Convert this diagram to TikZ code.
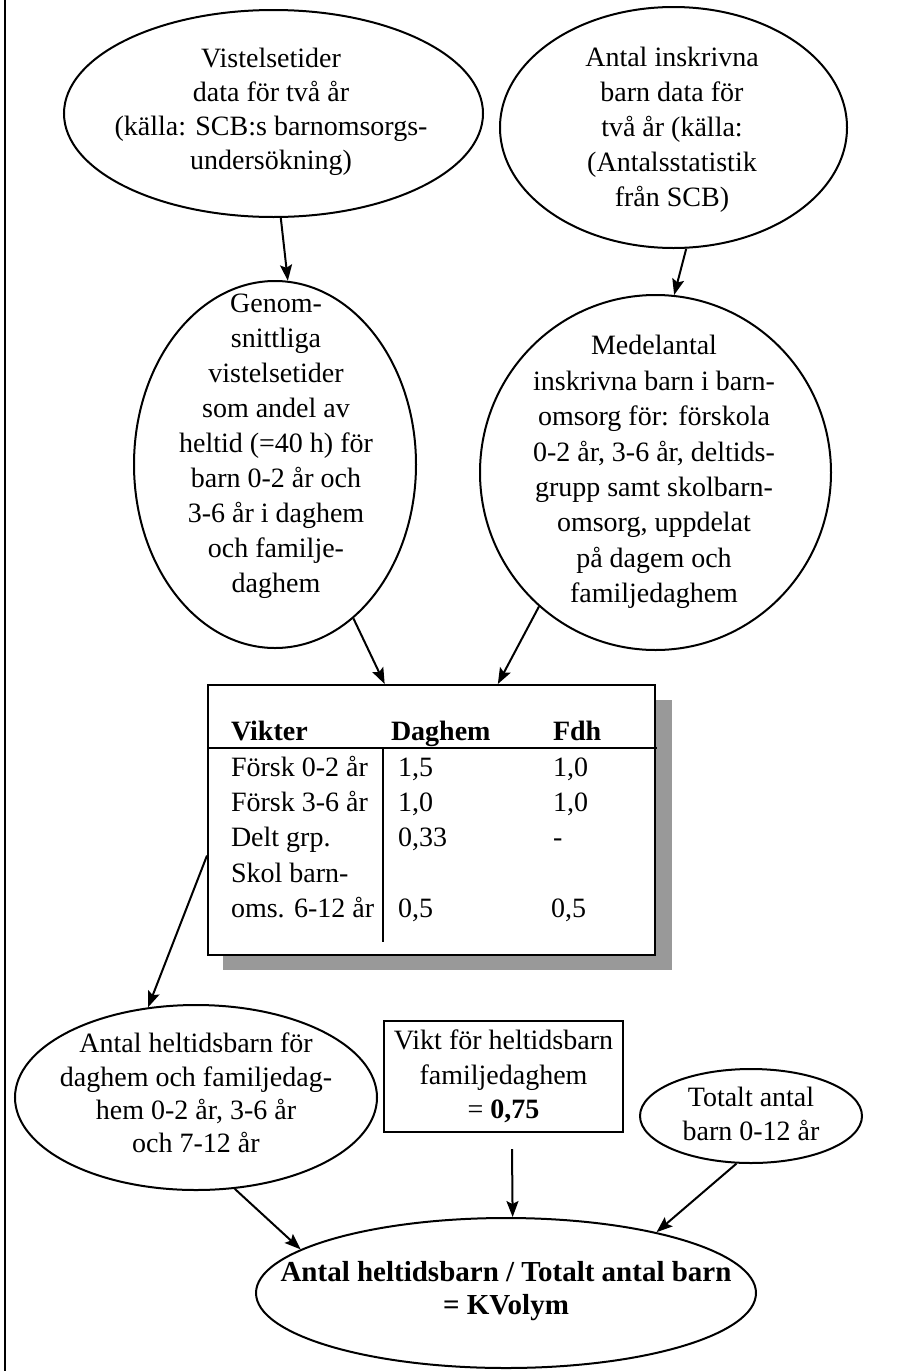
\documentclass[tikz,border=0pt]{standalone}
\usepackage{fontspec}
\setmainfont{Liberation Serif}
\usetikzlibrary{shapes.geometric}
\usetikzlibrary{arrows.meta}

\begin{document}
\begin{tikzpicture}
[x=1pt,y=-1pt,line width=2pt,%
  >={Stealth[length=16pt,width=12pt,inset=3pt]},%
  oval/.style={shape=ellipse,draw,inner sep=0pt},%
  txt/.style={align=center,inner sep=0pt,font=\fontsize{28}{34.5}\selectfont},%
  cell/.style={anchor=base west,inner sep=0pt,font=\fontsize{28}{34}\selectfont}]
\useasboundingbox (0,0) rectangle (912,1371);
\draw (5,0) -- (5,1371);
% sources
\node[oval,minimum width=419pt,minimum height=207pt] (vist) at (273.5,113.5) {};
\node[txt,font=\fontsize{28}{34}\selectfont] (vistT) at (271,112) {Vistelsetider\\data för två år\\(källa: SCB:s barnomsorgs-\\undersökning)};
\node[oval,minimum width=347pt,minimum height=241pt] (antal) at (673.5,127.5) {};
\node[txt,font=\fontsize{28}{35}\selectfont] (antalT) at (672,130) {Antal inskrivna\\barn data för\\två år  (källa:\\(Antalsstatistik\\från SCB)};
% middle
\node[oval,minimum width=282pt,minimum height=367pt] (genom) at (275,464.5) {};
\node[txt,font=\fontsize{28}{35}\selectfont] (genomT) at (276,446) {Genom-\\snittliga\\vistelsetider\\som andel av\\heltid (=40 h) för\\barn 0-2 år och\\3-6 år i daghem\\och familje-\\daghem};
\node[oval,minimum width=351pt,minimum height=355pt] (medel) at (655.5,472.5) {};
\node[txt,font=\fontsize{28}{35.4}\selectfont] (medelT) at (654,472) {Medelantal\\inskrivna barn i barn-\\omsorg för: förskola\\0-2 år, 3-6 år, deltids-\\grupp samt skolbarn-\\omsorg, uppdelat\\på dagem och\\familjedaghem};
\draw[->] (vist.-86.4) -- (genom.86.3);
\draw[->] (antal.-84.1) -- (medel.84);
% weights
\fill[black!40] (223,700) rectangle (672,970);
\node[draw,fill=white,inner sep=0pt,minimum width=447pt,minimum height=270pt] (tab) at (431.5,820) {};
\draw (208,748) -- (657,748);
\draw (383,748) -- (383,942);
\node[cell,font=\fontsize{28}{34}\selectfont\bfseries] (h1) at (230,740) {Vikter};
\node[cell,font=\fontsize{28}{34}\selectfont\bfseries] (h2) at (390,740) {Daghem};
\node[cell,font=\fontsize{28}{34}\selectfont\bfseries] (h3) at (552,740) {Fdh};
\node[cell] (r1a) at (230,776) {Försk 0-2 år};
\node[cell] (r1b) at (397,776) {1,5};
\node[cell] (r1c) at (552,776) {1,0};
\node[cell] (r2a) at (230,811) {Försk 3-6 år};
\node[cell] (r2b) at (397,811) {1,0};
\node[cell] (r2c) at (552,811) {1,0};
\node[cell] (r3a) at (230,846) {Delt grp.};
\node[cell] (r3b) at (397,846) {0,33};
\node[cell] (r3c) at (552,846) {-};
\node[cell] (r4a) at (230,882) {Skol barn-};
\node[cell] (r5a) at (230,917) {oms. 6-12 år};
\node[cell] (r5b) at (397,917) {0,5};
\node[cell] (r5c) at (550,917) {0,5};
\draw[->] (genom.-63.7) -- (tab.109.8);
\draw[->] (medel.229.9) -- (tab.64.1);
% bottom
\node[oval,minimum width=362pt,minimum height=185pt] (heltid) at (196,1097.5) {};
\node[txt,font=\fontsize{28}{33.3}\selectfont] (heltidT) at (196,1093) {Antal heltidsbarn för\\daghem och familjedag-\\hem 0-2 år, 3-6 år\\och 7-12 år};
\node[draw,txt,minimum width=239pt,minimum height=111pt] (vikt) at (503.5,1076.5) {Vikt för heltidsbarn\\familjedaghem\\= \textbf{0,75}};
\node[oval,minimum width=222pt,minimum height=94pt] (totalt) at (751,1116) {};
\node[txt] (totaltT) at (751,1114) {Totalt antal\\barn 0-12 år};
\node[oval,minimum width=500pt,minimum height=150pt] (kvol) at (506,1293) {};
\node[txt,font=\fontsize{29}{33}\selectfont\bfseries] (kvolT) at (506,1291) {Antal heltidsbarn / Totalt antal barn\\= KVolym};
\draw[->] (tab.189.6) -- (heltid.118.4);
\draw[->] (heltid.-67) -- (kvol.168);
\draw[->] ([xshift=8.5pt,yshift=-16pt]vikt.south) -- (kvol.85.4);
\draw[->] (totalt.253.4) -- (kvol.22);
\end{tikzpicture}
\end{document}
